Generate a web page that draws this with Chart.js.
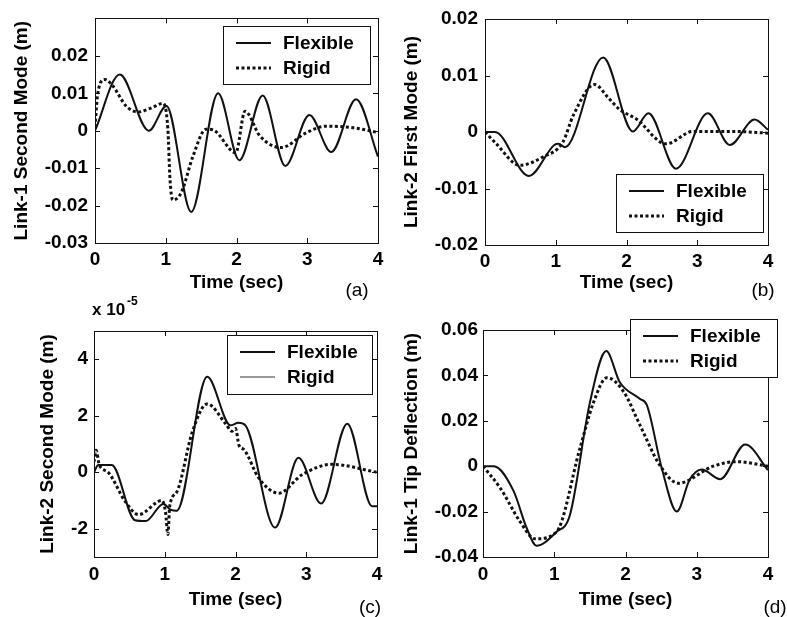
<!DOCTYPE html>
<html>
<head>
<meta charset="utf-8">
<title>Flexible vs rigid link response</title>
<script src="https://cdn.jsdelivr.net/npm/chart.js@4.4.1/dist/chart.umd.min.js"></script>
<style>
  body { margin: 0; background: #fff; }
  #wrap { position: relative; width: 787px; height: 617px; overflow: hidden; background: #fff; }
  #wrap canvas { position: absolute; }
</style>
</head>
<body>
<div id="wrap">
  <canvas id="chartA" width="393" height="300" style="left:0px;top:0px"></canvas>
  <canvas id="chartB" width="394" height="300" style="left:393px;top:0px"></canvas>
  <canvas id="chartC" width="393" height="332" style="left:0px;top:285px"></canvas>
  <canvas id="chartD" width="394" height="332" style="left:393px;top:285px"></canvas>
</div>
<script>
const ink = '#111';
const timeTicks = [0, 1, 2, 3, 4];

// (a) Link-1 second mode (m)
const aFlexTime = [0, 0.35, 0.76, 1.01, 1.36, 1.74, 2.04, 2.37, 2.69, 3.03, 3.34, 3.69, 4.0];
const aFlex = [0, 0.0150, 0.0000, 0.0066, -0.0217, 0.0100, -0.0079, 0.0094, -0.0094, 0.0042, -0.0057, 0.0084, -0.0069];
const aRigidTime = [0, 0.04, 0.14, 0.25, 0.44, 0.61, 0.80, 0.96, 1.03, 1.06, 1.10, 1.22, 1.385, 1.57, 1.67, 1.99, 2.12, 2.33, 2.63, 2.99, 3.27, 3.65, 4.0];
const aRigid = [0.001, 0.0101, 0.0137, 0.0120, 0.0066, 0.0050, 0.0061, 0.0073, 0.0004, -0.0130, -0.0185, -0.0165, -0.0068, 0.0004, 0.0002, -0.0059, 0.0052, -0.0014, -0.0045, -0.0005, 0.0012, 0.0008, -0.0005];
const aTicks = [-0.03, -0.02, -0.01, 0, 0.01, 0.02];

// (b) Link-2 first mode (m)
const bFlexTime = [0, 0.14, 0.62, 0.98, 1.04, 1.13, 1.67, 2.09, 2.31, 2.70, 3.15, 3.46, 3.81, 4.0];
const bFlex = [0, 0, -0.0078, -0.0023, -0.0021, -0.0027, 0.0132, 0.0001, 0.0033, -0.0065, 0.0033, -0.0023, 0.0022, 0.0004];
const bRigidTime = [0, 0.16, 0.49, 0.82, 1.10, 1.25, 1.55, 1.74, 1.90, 2.14, 2.56, 2.94, 3.5, 4.0];
const bRigid = [0, -0.0021, -0.0059, -0.0044, -0.0018, 0.0030, 0.0084, 0.0061, 0.0040, 0.0023, -0.0021, 0.0001, 0.0001, -0.0002];
const bTicks = [-0.02, -0.01, 0, 0.01, 0.02];

// (c) Link-2 second mode (x 10^-5 m)
const cFlexTime = [0, 0.06, 0.25, 0.58, 0.73, 0.98, 1.08, 1.17, 1.60, 1.93, 2.04, 2.14, 2.56, 2.89, 3.21, 3.58, 3.93, 4.0];
const cFlex = [0, 0.26, 0.26, -1.70, -1.73, -1.12, -1.32, -1.36, 3.38, 1.66, 1.75, 1.66, -1.96, 0.51, -1.11, 1.72, -1.2, -1.2];
const cRigidTime = [0, 0.03, 0.075, 0.2, 0.44, 0.63, 0.96, 1.01, 1.045, 1.07, 1.17, 1.39, 1.60, 1.86, 1.95, 2.0, 2.05, 2.12, 2.33, 2.61, 2.94, 3.36, 4.0];
const cRigid = [0.37, 0.78, 0.26, 0.0, -1.03, -1.5, -1.0, -1.4, -2.2, -1.2, -0.7, 1.43, 2.42, 1.72, 1.45, 1.55, 0.95, 0.8, -0.21, -0.74, -0.09, 0.28, 0];
const cTicks = [-2, 0, 2, 4];

// (d) Link-1 tip deflection (m)
const dFlexTime = [0, 0.15, 0.43, 0.61, 0.75, 1.03, 1.22, 1.50, 1.73, 1.92, 2.2, 2.30, 2.51, 2.72, 2.90, 3.07, 3.33, 3.68, 4.0];
const dFlex = [0, 0, -0.011, -0.027, -0.035, -0.029, -0.0215, 0.028, 0.0507, 0.037, 0.0297, 0.0269, -0.001, -0.020, -0.006, -0.0015, -0.0057, 0.0096, -0.0017];
const dRigidTime = [0, 0.24, 0.52, 0.73, 1.03, 1.36, 1.55, 1.74, 1.97, 2.2, 2.48, 2.74, 3.23, 3.56, 4.0];
const dRigid = [0, -0.0095, -0.0244, -0.032, -0.029, 0.0078, 0.028, 0.039, 0.033, 0.0183, 0.0005, -0.0075, 0, 0.002, 0];
const dTicks = [-0.04, -0.02, 0, 0.02, 0.04, 0.06];

Chart.defaults.font.family = "'Liberation Sans', Arial, sans-serif";
Chart.defaults.font.size = 19;
Chart.defaults.font.weight = 'bold';
Chart.defaults.color = '#000';

function toPoints(ts, ys) {
    return ts.map((t, i) => ({ x: t, y: ys[i] }));
}

function fmtTick(v) {
    if (v === 0) return '0';
    return String(Number(v.toFixed(2)));
}

// box round the plot plus the short inward ticks on all four sides
const framePlugin = {
    id: 'frame',
    afterDraw(chart) {
        const { ctx, chartArea: a, scales } = chart;
        ctx.save();
        ctx.strokeStyle = ink;
        ctx.lineWidth = 1;
        ctx.strokeRect(Math.round(a.left) + 0.5, Math.round(a.top) + 0.5,
            Math.round(a.right - a.left), Math.round(a.bottom - a.top));
        ctx.beginPath();
        scales.x.ticks.forEach(t => {
            const x = Math.round(scales.x.getPixelForValue(t.value)) + 0.5;
            ctx.moveTo(x, a.bottom); ctx.lineTo(x, a.bottom - 5);
            ctx.moveTo(x, a.top); ctx.lineTo(x, a.top + 5);
        });
        scales.y.ticks.forEach(t => {
            const y = Math.round(scales.y.getPixelForValue(t.value)) + 0.5;
            ctx.moveTo(a.left, y); ctx.lineTo(a.left + 5, y);
            ctx.moveTo(a.right, y); ctx.lineTo(a.right - 5, y);
        });
        ctx.stroke();
        ctx.restore();
    }
};

// MATLAB style legend box
const boxLegendPlugin = {
    id: 'boxLegend',
    afterDraw(chart, args, opts) {
        const ctx = chart.ctx;
        const { x, y, w, h } = opts;
        ctx.save();
        ctx.fillStyle = '#fff';
        ctx.fillRect(x, y, w, h);
        ctx.strokeStyle = ink;
        ctx.lineWidth = 1;
        ctx.strokeRect(x + 0.5, y + 0.5, w, h);
        chart.data.datasets.forEach((ds, i) => {
            const ry = y + 17 + i * 25;
            ctx.beginPath();
            ctx.strokeStyle = ink;
            if (i === 1 && opts.thinRigid) {
                ctx.lineWidth = 1;
                ctx.setLineDash([]);
                ctx.strokeStyle = '#333';
            } else {
                ctx.lineWidth = ds.borderWidth;
                ctx.setLineDash(ds.borderDash || []);
            }
            ctx.moveTo(x + 13, ry);
            ctx.lineTo(x + 48, ry);
            ctx.stroke();
            ctx.setLineDash([]);
            ctx.fillStyle = '#000';
            ctx.font = "bold 19px 'Liberation Sans', Arial, sans-serif";
            ctx.textBaseline = 'middle';
            ctx.textAlign = 'left';
            ctx.fillText(ds.label, x + 60, ry + 1);
        });
        ctx.restore();
    }
};

// panel letter and the exponent note
const notePlugin = {
    id: 'note',
    afterDraw(chart, args, opts) {
        const ctx = chart.ctx;
        ctx.save();
        ctx.fillStyle = '#000';
        ctx.textBaseline = 'middle';
        ctx.textAlign = 'center';
        ctx.font = "19px 'Liberation Sans', Arial, sans-serif";
        ctx.fillText(opts.letter, opts.lx, opts.ly);
        if (opts.exp) {
            ctx.textAlign = 'left';
            ctx.textBaseline = 'alphabetic';
            ctx.font = "bold 17px 'Liberation Sans', Arial, sans-serif";
            ctx.fillText('x 10', 92, 30);
            ctx.font = "bold 12px 'Liberation Sans', Arial, sans-serif";
            ctx.fillText('-5', 127, 20);
        }
        ctx.restore();
    }
};

function makePanel(id, p) {
    return new Chart(document.getElementById(id), {
        type: 'line',
        data: {
            datasets: [{
                label: 'Flexible',
                data: toPoints(p.flexTime, p.flex),
                borderColor: ink,
                borderWidth: 2,
                pointRadius: 0,
                cubicInterpolationMode: 'monotone'
            }, {
                label: 'Rigid',
                data: toPoints(p.rigidTime, p.rigid),
                borderColor: ink,
                borderWidth: 3,
                borderDash: [3, 2.5],
                pointRadius: 0,
                cubicInterpolationMode: 'monotone'
            }]
        },
        options: {
            responsive: false,
            animation: false,
            devicePixelRatio: 1,
            layout: { padding: p.pad },
            plugins: {
                legend: { display: false },
                tooltip: { enabled: false },
                boxLegend: p.legend,
                note: p.note
            },
            scales: {
                x: {
                    type: 'linear',
                    min: 0,
                    max: 4,
                    afterBuildTicks: s => { s.ticks = timeTicks.map(v => ({ value: v })); },
                    afterFit: s => { s.height = p.xHeight; },
                    grid: { display: false, drawTicks: false },
                    border: { display: false },
                    ticks: { padding: p.xTickPad, maxRotation: 0, autoSkip: false, callback: v => String(v) },
                    title: { display: true, text: 'Time (sec)', padding: { top: 0, bottom: 5.6 } }
                },
                y: {
                    min: p.yMin,
                    max: p.yMax,
                    afterBuildTicks: s => { s.ticks = p.yTicks.map(v => ({ value: v })); },
                    afterFit: s => { s.width = p.yWidth; },
                    grid: { display: false, drawTicks: false },
                    border: { display: false },
                    ticks: { padding: p.yTickPad, autoSkip: false, callback: v => fmtTick(v) },
                    title: { display: true, text: p.yTitle, padding: { top: p.yTitlePad, bottom: 0 } }
                }
            }
        },
        plugins: [framePlugin, boxLegendPlugin, notePlugin]
    });
}

makePanel('chartA', {
    flexTime: aFlexTime, flex: aFlex, rigidTime: aRigidTime, rigid: aRigid,
    yTicks: aTicks, yMin: -0.03, yMax: 0.03,
    yTitle: 'Link-1 Second Mode (m)',
    pad: { left: 0, top: 15, right: 15, bottom: 0 },
    yWidth: 95, xHeight: 57, yTickPad: 7, xTickPad: 5, yTitlePad: 10.6,
    legend: { x: 223, y: 26, w: 147, h: 58 },
    note: { letter: '(a)', lx: 357, ly: 291 }
});

makePanel('chartB', {
    flexTime: bFlexTime, flex: bFlex, rigidTime: bRigidTime, rigid: bRigid,
    yTicks: bTicks, yMin: -0.02, yMax: 0.02,
    yTitle: 'Link-2 First Mode (m)',
    pad: { left: 0, top: 19, right: 19, bottom: 0 },
    yWidth: 92, xHeight: 55, yTickPad: 7, xTickPad: 5, yTitlePad: 7.6,
    legend: { x: 223, y: 174, w: 147, h: 58 },
    note: { letter: '(b)', lx: 370, ly: 291 }
});

makePanel('chartC', {
    flexTime: cFlexTime, flex: cFlex, rigidTime: cRigidTime, rigid: cRigid,
    yTicks: cTicks, yMin: -3, yMax: 5,
    yTitle: 'Link-2 Second Mode (m)',
    pad: { left: 0, top: 46, right: 16, bottom: 0 },
    yWidth: 94, xHeight: 60, yTickPad: 6, xTickPad: 6.6, yTitlePad: 36.6,
    legend: { x: 227, y: 50, w: 145, h: 59, thinRigid: true },
    note: { letter: '(c)', lx: 370, ly: 323, exp: true }
});

makePanel('chartD', {
    flexTime: dFlexTime, flex: dFlex, rigidTime: dRigidTime, rigid: dRigid,
    yTicks: dTicks, yMin: -0.04, yMax: 0.06,
    yTitle: 'Link-1 Tip Deflection (m)',
    pad: { left: 0, top: 45, right: 19, bottom: 0 },
    yWidth: 90, xHeight: 60, yTickPad: 5, xTickPad: 6.6, yTitlePad: 7.6,
    legend: { x: 237, y: 34, w: 147, h: 58 },
    note: { letter: '(d)', lx: 382, ly: 323 }
});
</script>
</body>
</html>
